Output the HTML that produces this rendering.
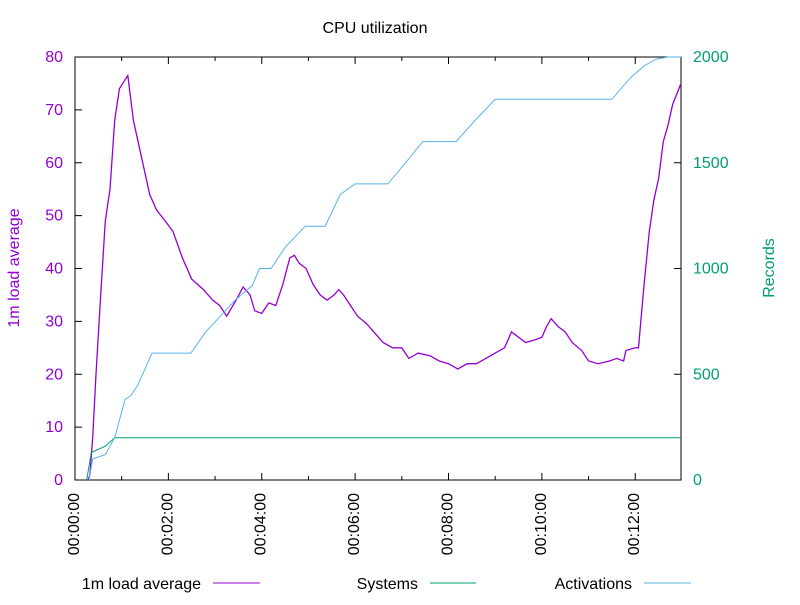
<!DOCTYPE html>
<html><head><meta charset="utf-8"><style>
body{margin:0;background:#fff;}
svg text{font-family:"Liberation Sans",sans-serif;font-size:16px;}
</style></head><body>
<svg id="chart" width="800" height="600" viewBox="0 0 800 600" xmlns="http://www.w3.org/2000/svg">
<rect x="0" y="0" width="800" height="600" fill="#fff"/>
<text x="375" y="33" text-anchor="middle">CPU utilization</text>
<g id="axes"></g>
<g id="series"></g>
<text transform="translate(19,268) rotate(-90)" text-anchor="middle" fill="#9400d3">1m load average</text>
<text transform="translate(774,268) rotate(-90)" text-anchor="middle" fill="#009e73">Records</text>
<g>
<text x="201" y="589" text-anchor="end">1m load average</text>
<line x1="213" y1="583" x2="260" y2="583" stroke="#9400d3" stroke-width="1"/>
<text x="418" y="589" text-anchor="end">Systems</text>
<line x1="430" y1="583" x2="476" y2="583" stroke="#009e73" stroke-width="1"/>
<text x="632" y="589" text-anchor="end">Activations</text>
<line x1="644" y1="583" x2="691" y2="583" stroke="#56b4e9" stroke-width="1"/>
</g>
</svg>
<script>
// data (time in minutes)
const loadT = [0.28,0.32,0.38,0.45,0.55,0.65,0.75,0.85,0.95,1.13,1.25,1.4,1.6,1.75,1.93,2.1,2.3,2.5,2.75,2.95,3.1,3.25,3.45,3.6,3.75,3.85,4.0,4.15,4.3,4.45,4.6,4.7,4.8,4.95,5.1,5.25,5.4,5.55,5.65,5.75,5.9,6.05,6.25,6.4,6.6,6.8,7.0,7.15,7.35,7.6,7.8,8.0,8.2,8.4,8.6,8.8,9.0,9.2,9.35,9.5,9.65,9.85,10.0,10.1,10.2,10.35,10.5,10.65,10.85,11.0,11.2,11.45,11.6,11.75,11.8,12.0,12.07,12.12,12.2,12.3,12.4,12.5,12.6,12.7,12.8,12.98];
const loadV = [0,1,8,20,35,49,55,68,74,76.5,68,62,54,51,49,47,42,38,36,34,33,31,34,36.5,35,32,31.5,33.5,33,37,42,42.5,41,40,37,35,34,35,36,35,33,31,29.5,28,26,25,25,23,24,23.5,22.5,22,21,22,22,23,24,25,28,27,26,26.5,27,29,30.5,29,28,26,24.5,22.5,22,22.5,23,22.5,24.5,25,25,30,38,47,53,57,64,67,71,75];
const actT = [0.3,0.38,0.65,0.85,1.07,1.2,1.35,1.65,2.48,2.8,3.22,3.43,3.8,3.95,4.2,4.5,4.93,5.36,5.68,6.0,6.7,7.08,7.45,8.16,8.57,9.0,11.5,11.89,12.2,12.45,12.7,12.98];
const actV = [0,100,120,200,380,400,450,600,600,700,800,850,920,1000,1000,1100,1200,1200,1350,1400,1400,1500,1600,1600,1700,1800,1800,1900,1960,1990,2000,2000];
const sysT = [0.25,0.35,0.65,0.85,12.98];
const sysV = [0,130,160,200,200];
const xTickLabels = ["00:00:00","00:02:00","00:04:00","00:06:00","00:08:00","00:10:00","00:12:00"];
const yLeftTicks = [0,10,20,30,40,50,60,70,80];
const yRightTicks = [0,500,1000,1500,2000];

const X0=75,X1=681,Y0=480,Y1=57;
const xs=t=>X0+t*(X1-X0)/12.98;
const yl=v=>Y0-v*(Y0-Y1)/80;
const yr=v=>Y0-v*(Y0-Y1)/2000;
const NS="http://www.w3.org/2000/svg";
const axes=document.getElementById('axes'), ser=document.getElementById('series');
function mk(tag,attrs,parent){const e=document.createElementNS(NS,tag);for(const k in attrs)e.setAttribute(k,attrs[k]);parent.appendChild(e);return e;}

const frame=mk('rect',{x:X0,y:Y1,width:X1-X0,height:Y0-Y1,fill:'none',stroke:'#000','stroke-width':1},axes);


for(let m=0;m<=12;m++){
  const x=xs(m);
  const tb=mk('line',{x1:x,y1:Y0,x2:x,y2:Y0-(m%2?4:7),stroke:'#000'},axes);
  
  
  const tt=mk('line',{x1:x,y1:Y1,x2:x,y2:Y1+(m%2?4:7),stroke:'#000'},axes);
  
  
}
xTickLabels.forEach((s,i)=>{
  const x=xs(i*2);
  const t=mk('text',{transform:`translate(${x+4},493) rotate(-90)`,'text-anchor':'end'},axes);
  t.textContent=s;
  
  
});
yLeftTicks.forEach(v=>{
  const y=yl(v);
  const l=mk('line',{x1:X0,y1:y,x2:X0+7,y2:y,stroke:'#000'},axes);
  
  
  const t=mk('text',{x:X0-12,y:y+5,'text-anchor':'end',fill:'#9400d3'},axes);
  t.textContent=v;
  
  
});
yRightTicks.forEach(v=>{
  const y=yr(v);
  const l=mk('line',{x1:X1,y1:y,x2:X1-7,y2:y,stroke:'#000'},axes);
  
  
  const t=mk('text',{x:X1+12,y:y+5,'text-anchor':'start',fill:'#009e73'},axes);
  t.textContent=v;
  
  
});
function linePath(T,V,yf){return T.map((t,i)=>(i?'L':'M')+xs(t).toFixed(1)+','+yf(V[i]).toFixed(1)).join('');}
const pl=mk('path',{d:linePath(loadT,loadV,yl),fill:'none',stroke:'#9400d3','stroke-width':1.3},ser);


const ps=mk('path',{d:linePath(sysT,sysV,yr),fill:'none',stroke:'#009e73','stroke-width':1},ser);


const pa=mk('path',{d:linePath(actT,actV,yr),fill:'none',stroke:'#56b4e9','stroke-width':1},ser);


</script>
</body></html>
